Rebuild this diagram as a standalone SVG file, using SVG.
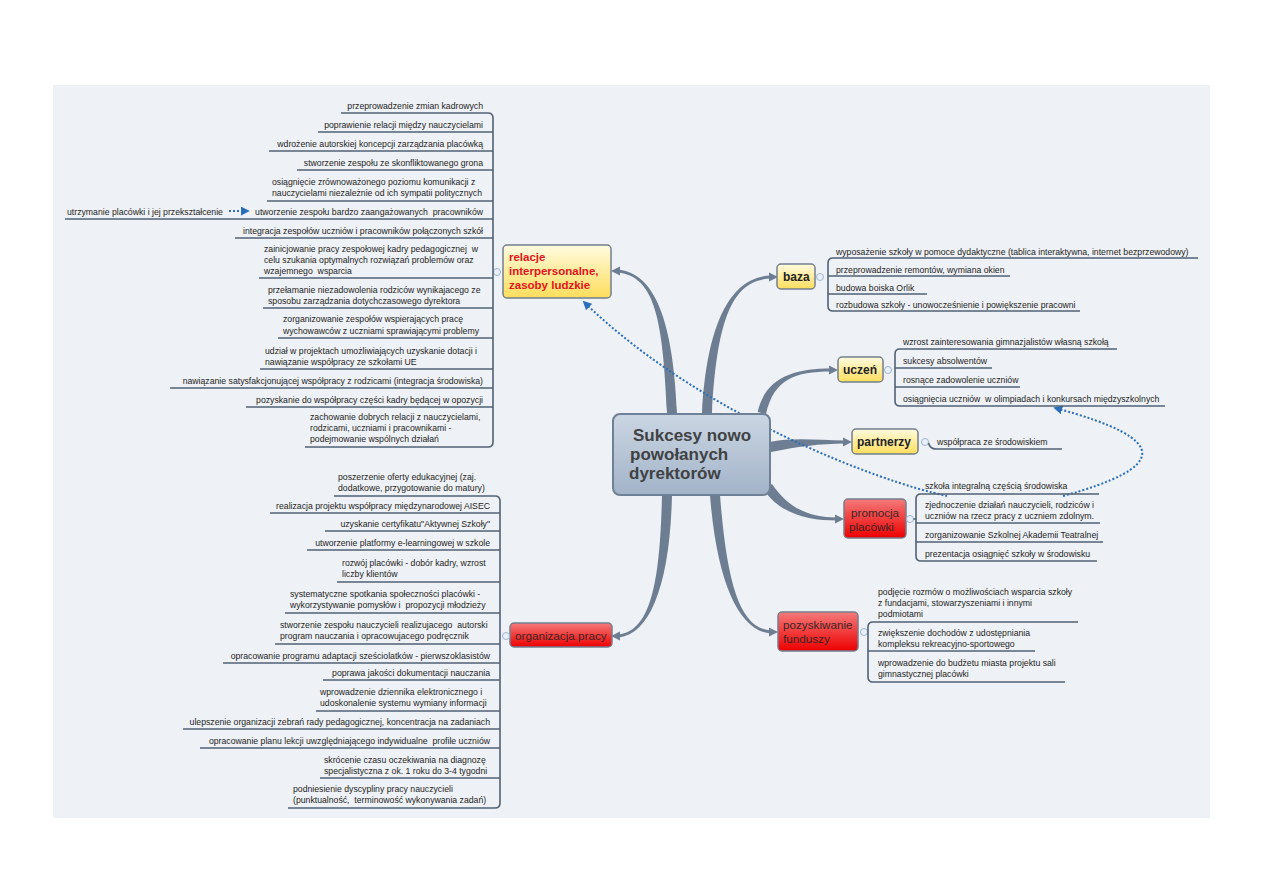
<svg xmlns="http://www.w3.org/2000/svg" width="1263" height="893" viewBox="0 0 1263 893">
<defs>
<linearGradient id="gY" x1="0" y1="0" x2="0" y2="1"><stop offset="0" stop-color="#fffbe0"/><stop offset="1" stop-color="#ffdd5c"/></linearGradient>
<linearGradient id="gR" x1="0" y1="0" x2="0" y2="1"><stop offset="0" stop-color="#f47a7a"/><stop offset="1" stop-color="#ee0000"/></linearGradient>
<linearGradient id="gC" x1="0" y1="0" x2="0" y2="1"><stop offset="0" stop-color="#cbd6e3"/><stop offset="1" stop-color="#a2b3c8"/></linearGradient>
<marker id="ab" viewBox="0 0 10 10" refX="8" refY="5" markerWidth="9" markerHeight="9" markerUnits="userSpaceOnUse" orient="auto"><path d="M0,0 L10,5 L0,10 z" fill="#2a6ebb"/></marker>
<style>
.t{font-family:"Liberation Sans",Arial,sans-serif;font-size:8.7px;fill:#1e1e1e;white-space:pre}
.e{text-anchor:end}
.ul{fill:none;stroke:#516275;stroke-width:1.6}
.br{fill:#6d7e93}
.nb{stroke:#737f8e;stroke-width:1.5}
.lb{font-family:"Liberation Sans",Arial,sans-serif;font-size:12px;font-weight:bold;fill:#222}
.lr{font-family:"Liberation Sans",Arial,sans-serif;font-size:11.7px;fill:#3a2626}
.cc{fill:#e9eff7;stroke:#9db6d3;stroke-width:1}
.rel{fill:none;stroke:#2a6ebb;stroke-width:2;stroke-dasharray:2 2}
</style>
</defs>
<rect x="0" y="0" width="1263" height="893" fill="#ffffff"/>
<rect x="53" y="85" width="1157" height="733" fill="#eef1f5"/>

<g id="connectors">
<path class="br" d="M677 413 C673 320 655 273.5 618 269.5 L618 272.5 C655 276.5 663 320 667 413 Z"/>
<polygon class="br" points="611,271 620,266.5 620,275.5"/>
<path class="br" d="M712 413 C717 320 732 279.5 771 278.5 L771 275.5 C732 276.5 707 320 702 413 Z"/>
<polygon class="br" points="778,277 769,272.5 769,281.5"/>
<path class="br" d="M766 414 C774 379 795 371.5 831 371.5 L831 368.5 C795 368.5 765.6 377 757.6 412 Z"/>
<polygon class="br" points="838,370 829,365.5 829,374.5"/>
<path class="br" d="M771 452 C796 447 820 443.5 845 443.5 L845 440.5 C820 440.5 794 437 769 442 Z"/>
<polygon class="br" points="852,442 843,437.5 843,446.5"/>
<path class="br" d="M764 490 C781 515 810 520.5 837 520.5 L837 517.5 C810 517.5 789 509 772 484 Z"/>
<polygon class="br" points="844,519 835,514.5 835,523.5"/>
<path class="br" d="M710 495 C717 585 740 631.5 771 633.5 L771 630.5 C740 628.5 727 585 720 495 Z"/>
<polygon class="br" points="778,632 769,627.5 769,636.5"/>
<path class="br" d="M662 495 C660 585 650 630.5 619 634.5 L619 637.5 C650 633.5 670 585 672 495 Z"/>
<polygon class="br" points="611,636 620,631.5 620,640.5"/>
<path class="rel" d="M947 496 C880 482 700 415 584 302" marker-end="url(#ab)"/>
<path class="rel" d="M1063 496 C1165 468 1175 440 1055 408" marker-end="url(#ab)"/>
<path class="rel" d="M229 211 H248" marker-end="url(#ab)" stroke-dasharray="3 2"/>
</g>

<g id="center">
<rect x="613" y="414" width="157" height="81" rx="7" fill="url(#gC)" stroke="#6f8196" stroke-width="2"/>
<text font-family="Liberation Sans,Arial,sans-serif" font-size="17" font-weight="bold" fill="#404244"><tspan x="633" y="441">Sukcesy nowo</tspan><tspan x="630" y="460">powołanych</tspan><tspan x="629" y="479">dyrektorów</tspan></text>
</g>

<g id="relacje">
<rect class="nb" x="503" y="245" width="108" height="53" rx="4" fill="url(#gY)"/>
<text font-family="Liberation Sans,Arial,sans-serif" font-size="11.5" font-weight="bold" fill="#e3131b"><tspan x="509" y="261">relacje</tspan><tspan x="509" y="275">interpersonalne,</tspan><tspan x="509" y="289">zasoby ludzkie</tspan></text>
<circle class="cc" cx="497" cy="272" r="3.5"/>
<path class="ul" d="M341 113 H488 Q493 113 493 118 V442 Q493 447 488 447 H305"/>
<path class="ul" d="M318 132 H493 M269 151 H493 M297 170 H493 M267 201 H493 M65 219 H493 M235 238 H493 M259 278 H493 M263 308 H493 M278 338 H493 M260 369 H493 M170 388 H493 M246 407 H493"/>
<text class="t e" x="483" y="109">przeprowadzenie zmian kadrowych</text>
<text class="t e" x="483" y="128">poprawienie relacji między nauczycielami</text>
<text class="t e" x="483" y="147">wdrożenie autorskiej koncepcji zarządzania placówką</text>
<text class="t e" x="483" y="166">stworzenie zespołu ze skonfliktowanego grona</text>
<text class="t"><tspan x="272" y="185">osiągnięcie zrównoważonego poziomu komunikacji z</tspan><tspan x="272" y="196">nauczycielami niezależnie od ich sympatii politycznych</tspan></text>
<text class="t e" x="483" y="215">utworzenie zespołu bardzo zaangażowanych  pracowników</text>
<text class="t e" x="483" y="234">integracja zespołów uczniów i pracowników połączonych szkół</text>
<text class="t"><tspan x="264" y="252">zainicjowanie pracy zespołowej kadry pedagogicznej  w</tspan><tspan x="264" y="263">celu szukania optymalnych rozwiązań problemów oraz</tspan><tspan x="264" y="274">wzajemnego  wsparcia</tspan></text>
<text class="t"><tspan x="268" y="293">przełamanie niezadowolenia rodziców wynikajacego ze</tspan><tspan x="268" y="304">sposobu zarządzania dotychczasowego dyrektora</tspan></text>
<text class="t"><tspan x="283" y="322">zorganizowanie zespołów wspierających pracę</tspan><tspan x="283" y="334">wychowawców z uczniami sprawiającymi problemy</tspan></text>
<text class="t"><tspan x="265" y="354">udział w projektach umożliwiających uzyskanie dotacji i</tspan><tspan x="265" y="365">nawiązanie współpracy ze szkołami UE</tspan></text>
<text class="t e" x="483" y="384">nawiązanie satysfakcjonującej współpracy z rodzicami (integracja środowiska)</text>
<text class="t e" x="483" y="403">pozyskanie do współpracy części kadry będącej w opozycji</text>
<text class="t"><tspan x="310" y="420">zachowanie dobrych relacji z nauczycielami,</tspan><tspan x="310" y="431">rodzicami, uczniami i pracownikami -</tspan><tspan x="310" y="442">podejmowanie wspólnych działań</tspan></text>
</g>

<g id="floating">
<text class="t" x="67" y="215">utrzymanie placówki i jej przekształcenie</text>
</g>

<g id="organizacja">
<rect class="nb" x="510" y="623" width="102" height="24" rx="4" fill="url(#gR)"/>
<text class="lr" x="515" y="640">organizacja pracy</text>
<circle class="cc" cx="506" cy="636" r="3.5"/>
<path class="ul" d="M334 496 H495 Q500 496 500 501 V803 Q500 808 495 808 H288"/>
<path class="ul" d="M270 513 H500 M325 531 H500 M307 550 H500 M337 582 H500 M285 613 H500 M275 644 H500 M223 663 H500 M323 680 H500 M316 711 H500 M183 729 H500 M200 748 H500 M320 778 H500"/>
<text class="t"><tspan x="338" y="480">poszerzenie oferty edukacyjnej (zaj.</tspan><tspan x="338" y="491">dodatkowe, przygotowanie do matury)</tspan></text>
<text class="t e" x="490" y="509">realizacja projektu współpracy międzynarodowej AISEC</text>
<text class="t e" x="490" y="527">uzyskanie certyfikatu"Aktywnej Szkoły"</text>
<text class="t e" x="490" y="546">utworzenie platformy e-learningowej w szkole</text>
<text class="t"><tspan x="342" y="566">rozwój placówki - dobór kadry, wzrost</tspan><tspan x="342" y="577">liczby klientów</tspan></text>
<text class="t"><tspan x="290" y="597">systematyczne spotkania społeczności placówki -</tspan><tspan x="290" y="608">wykorzystywanie pomysłów i  propozycji młodzieży</tspan></text>
<text class="t"><tspan x="280" y="628">stworzenie zespołu nauczycieli realizujacego  autorski</tspan><tspan x="280" y="639">program nauczania i opracowujacego podręcznik</tspan></text>
<text class="t e" x="490" y="659">opracowanie programu adaptacji sześciolatków - pierwszoklasistów</text>
<text class="t e" x="490" y="676">poprawa jakości dokumentacji nauczania</text>
<text class="t"><tspan x="320" y="695">wprowadzenie dziennika elektronicznego i</tspan><tspan x="320" y="706">udoskonalenie systemu wymiany informacji</tspan></text>
<text class="t e" x="490" y="725">ulepszenie organizacji zebrań rady pedagogicznej, koncentracja na zadaniach</text>
<text class="t e" x="490" y="744">opracowanie planu lekcji uwzględniającego indywidualne  profile uczniów</text>
<text class="t"><tspan x="324" y="763">skrócenie czasu oczekiwania na diagnozę</tspan><tspan x="324" y="774">specjalistyczna z ok. 1 roku do 3-4 tygodni</tspan></text>
<text class="t"><tspan x="293" y="792">podniesienie dyscypliny pracy nauczycieli</tspan><tspan x="293" y="803">(punktualność,  terminowość wykonywania zadań)</tspan></text>
</g>

<g id="baza">
<rect class="nb" x="777" y="264" width="38" height="25" rx="4" fill="url(#gY)"/>
<text class="lb" x="783" y="281">baza</text>
<circle class="cc" cx="820" cy="277" r="3.5"/>
<path class="ul" d="M1198 258 H833 Q828 258 828 263 V306 Q828 311 833 311 H1080"/>
<path class="ul" d="M828 276 H1010 M828 294 H927"/>
<text class="t" x="836" y="254.5">wyposażenie szkoły w pomoce dydaktyczne (tablica interaktywna, internet bezprzewodowy)</text>
<text class="t" x="836" y="272.5">przeprowadzenie remontów, wymiana okien</text>
<text class="t" x="836" y="290.5">budowa boiska Orlik</text>
<text class="t" x="836" y="307.5">rozbudowa szkoły - unowocześnienie i powiększenie pracowni</text>
</g>

<g id="uczen">
<rect class="nb" x="838" y="357" width="45" height="25" rx="4" fill="url(#gY)"/>
<text class="lb" x="843" y="374">uczeń</text>
<circle class="cc" cx="888" cy="370" r="3.5"/>
<path class="ul" d="M1117 349 H900 Q895 349 895 354 V401 Q895 406 900 406 H1165"/>
<path class="ul" d="M895 368 H992 M895 387 H1020"/>
<text class="t" x="903" y="345">wzrost zainteresowania gimnazjalistów własną szkołą</text>
<text class="t" x="903" y="364">sukcesy absolwentów</text>
<text class="t" x="903" y="383">rosnące zadowolenie uczniów</text>
<text class="t" x="903" y="402">osiągnięcia uczniów  w olimpiadach i konkursach międzyszkolnych</text>
</g>

<g id="partnerzy">
<rect class="nb" x="852" y="429" width="66" height="25" rx="4" fill="url(#gY)"/>
<text class="lb" x="857" y="446">partnerzy</text>
<circle class="cc" cx="925" cy="442" r="3.5"/>
<path class="ul" d="M928.5 443 Q930 449 936 449 H1062"/>
<text class="t" x="937" y="445">współpraca ze środowiskiem</text>
</g>

<g id="promocja">
<rect class="nb" x="844" y="499" width="62" height="39" rx="4" fill="url(#gR)"/>
<text class="lr"><tspan x="851" y="517">promocja</tspan><tspan x="849" y="531">placówki</tspan></text>
<circle class="cc" cx="910" cy="519" r="3.5"/>
<path class="ul" d="M1099 494 H921 Q916 494 916 499 V556 Q916 561 921 561 H1097"/>
<path class="ul" d="M913.5 519 H916 M916 523 H1100 M916 542 H1103"/>
<text class="t" x="925" y="489">szkoła integralną częścią środowiska</text>
<text class="t"><tspan x="925" y="508">zjednoczenie działań nauczycieli, rodziców i</tspan><tspan x="925" y="519">uczniów na rzecz pracy z uczniem zdolnym.</tspan></text>
<text class="t" x="925" y="538">zorganizowanie Szkolnej Akademii Teatralnej</text>
<text class="t" x="925" y="557">prezentacja osiągnięć szkoły w środowisku</text>
</g>

<g id="pozyskiwanie">
<rect class="nb" x="778" y="612" width="80" height="39" rx="4" fill="url(#gR)"/>
<text class="lr" font-size="11.5"><tspan x="783" y="629">pozyskiwanie</tspan><tspan x="783" y="643">funduszy</tspan></text>
<circle class="cc" cx="864" cy="632" r="3.5"/>
<path class="ul" d="M1078 622 H873 Q868 622 868 627 V677 Q868 682 873 682 H1065"/>
<path class="ul" d="M868 651 H1035"/>
<text class="t"><tspan x="878" y="595">podjęcie rozmów o możliwościach wsparcia szkoły</tspan><tspan x="878" y="606">z fundacjami, stowarzyszeniami i innymi</tspan><tspan x="878" y="617">podmiotami</tspan></text>
<text class="t"><tspan x="878" y="636">zwiększenie dochodów z udostępniania</tspan><tspan x="878" y="647">kompleksu rekreacyjno-sportowego</tspan></text>
<text class="t"><tspan x="878" y="666">wprowadzenie do budżetu miasta projektu sali</tspan><tspan x="878" y="677">gimnastycznej placówki</tspan></text>
</g>
</svg>
